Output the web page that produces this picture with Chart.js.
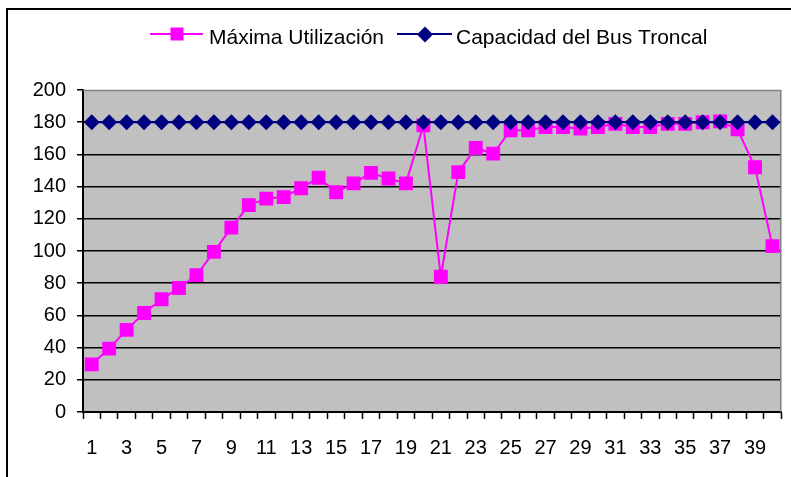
<!DOCTYPE html>
<html><head><meta charset="utf-8">
<style>html,body{margin:0;padding:0;background:#fff;overflow:hidden}#wrap{width:791px;height:477px;position:relative}</style>
<script src="https://cdn.jsdelivr.net/npm/chart.js@4"></script>
</head><body><div id="wrap"><canvas id="c" width="791" height="477"></canvas></div>
<script>
const categories = ['1','2','3','4','5','6','7','8','9','10','11','12','13','14','15','16','17','18','19','20',
  '21','22','23','24','25','26','27','28','29','30','31','32','33','34','35','36','37','38','39','40'];
const maximaUtilizacion = [29.6, 39.4, 51, 61.5, 70, 77, 85, 99.5, 114.5, 128.5,
  132.5, 133.5, 139, 145.5, 136.5, 142, 148.5, 145, 142, 178,
  84, 149, 164, 160.5, 175, 175, 177, 177, 176, 177,
  179, 177, 177, 179, 179, 180, 180.5, 175.5, 152, 103];
const capacidadBus = [180,180,180,180,180,180,180,180,180,180,180,180,180,180,180,180,180,180,180,180,
  180,180,180,180,180,180,180,180,180,180,180,180,180,180,180,180,180,180,180,180];
const yTicks = [0,20,40,60,80,100,120,140,160,180,200];
const seriesNames = ['Máxima Utilización', 'Capacidad del Bus Troncal'];

const FONT = "'Liberation Sans', Arial, sans-serif";
const MAGENTA = '#FF00FF', NAVY = '#000080';

const framePlugin = {
  id: 'frame',
  beforeDraw(chart) {
    const {ctx, chartArea: a} = chart;
    ctx.save();
    ctx.fillStyle = '#fff';
    ctx.fillRect(0, 0, chart.width, chart.height);
    ctx.fillStyle = '#C0C0C0';
    ctx.fillRect(a.left, a.top, a.right - a.left, a.bottom - a.top);
    ctx.strokeStyle = '#000';
    ctx.lineWidth = 2;
    ctx.strokeRect(7, 9, 900, 900);
    ctx.restore();
  },
  beforeDatasetsDraw(chart) {
    const {ctx, chartArea: a} = chart;
    ctx.save();
    ctx.strokeStyle = '#808080';
    ctx.lineWidth = 1.5;
    ctx.beginPath();
    ctx.moveTo(a.left, a.top + 0.5);
    ctx.lineTo(a.right - 0.5, a.top + 0.5);
    ctx.lineTo(a.right - 0.5, a.bottom);
    ctx.stroke();
    ctx.restore();
  },
  afterDraw(chart) {
    const ctx = chart.ctx;
    ctx.save();
    ctx.font = '21px ' + FONT;
    ctx.textBaseline = 'middle';
    ctx.fillStyle = '#000';
    // legend item 1
    ctx.strokeStyle = MAGENTA; ctx.lineWidth = 2;
    ctx.beginPath(); ctx.moveTo(150, 34); ctx.lineTo(203, 34); ctx.stroke();
    ctx.fillStyle = MAGENTA; ctx.fillRect(170.5, 27.5, 13, 13);
    ctx.fillStyle = '#000';
    ctx.fillText(seriesNames[0], 209, 38);
    // legend item 2
    ctx.strokeStyle = NAVY;
    ctx.beginPath(); ctx.moveTo(397, 34); ctx.lineTo(452, 34); ctx.stroke();
    ctx.fillStyle = NAVY;
    ctx.beginPath(); ctx.moveTo(425, 26.5); ctx.lineTo(433, 34.5); ctx.lineTo(425, 42.5); ctx.lineTo(417, 34.5); ctx.closePath(); ctx.fill();
    ctx.fillStyle = '#000';
    ctx.fillText(seriesNames[1], 456, 38);
    ctx.restore();
  }
};

new Chart(document.getElementById('c'), {
  type: 'line',
  data: {
    labels: categories,
    datasets: [
      { label: seriesNames[0], data: maximaUtilizacion, borderColor: MAGENTA, backgroundColor: MAGENTA,
        borderWidth: 2, pointStyle: 'rect', pointRadius: 9.8, pointBorderWidth: 0, pointBackgroundColor: MAGENTA,
        tension: 0, order: 1 },
      { label: seriesNames[1], data: capacidadBus, borderColor: NAVY, backgroundColor: NAVY,
        borderWidth: 2, pointStyle: 'rectRot', pointRadius: 8, pointBorderWidth: 0, pointBackgroundColor: NAVY,
        tension: 0, order: 0 }
    ]
  },
  options: {
    responsive: false, animation: false, devicePixelRatio: 1,
    layout: { padding: { top: 90, right: 9, left: 0, bottom: 0 } },
    plugins: { legend: { display: false }, tooltip: { enabled: false } },
    scales: {
      x: {
        offset: true,
        grid: { offset: true, drawOnChartArea: false, drawTicks: true, tickLength: 7, tickColor: '#000', tickWidth: 1.5 },
        border: { color: '#000', width: 2 },
        ticks: { autoSkip: false, maxRotation: 0, minRotation: 0, color: '#000', font: { family: FONT, size: 20 }, padding: 17,
          callback: (v, i) => (i % 2 === 0 ? categories[i] : '') },
        afterFit: s => { s.height = 65; }
      },
      y: {
        min: 0, max: 200,
        afterBuildTicks: s => { s.ticks = yTicks.map(v => ({ value: v })); },
        grid: { color: c => (c.tick && c.tick.value === 200 ? 'rgba(0,0,0,0)' : '#000'), lineWidth: 1.5,
          tickLength: 6, tickColor: '#000', tickWidth: 1.5 },
        border: { color: '#000', width: 2 },
        ticks: { color: '#000', font: { family: FONT, size: 20 }, padding: 11 },
        afterFit: s => { s.width = 83; }
      }
    }
  },
  plugins: [framePlugin]
});
</script></body></html>
